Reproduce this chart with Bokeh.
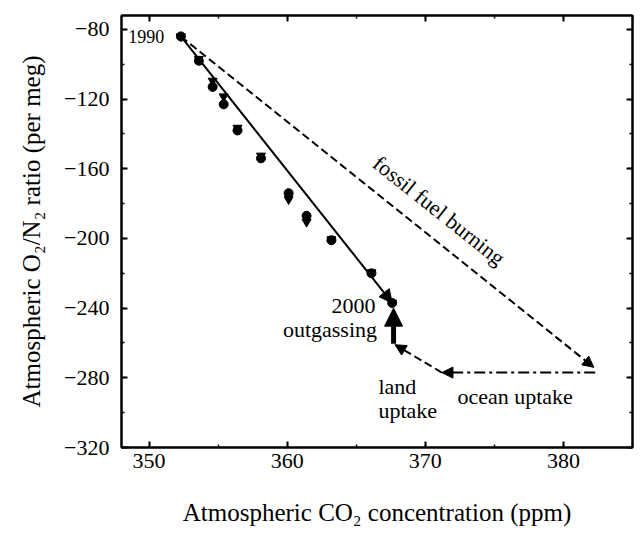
from bokeh.plotting import figure
from bokeh.models import (Arrow, NormalHead, Label, LinearAxis, Range1d,
                          FixedTicker, CustomJSTickFormatter, ColumnDataSource)
from bokeh.embed import file_html
from bokeh.resources import INLINE
import math

# ---- data ----
years = [1990, 1991, 1992, 1993, 1994, 1995, 1996, 1997, 1998, 1999, 2000]
co2 = [352.3, 353.6, 354.6, 355.4, 356.4, 358.1, 360.1, 361.4, 363.2, 366.1, 367.6]
o2n2 = [-84, -98, -113, -123, -138, -154, -174, -187, -201, -220, -237]

tri_co2 = [352.3, 353.6, 354.6, 355.4, 356.4, 358.1, 360.1, 361.4, 363.2, 366.1, 367.6]
tri_o2n2 = [-84, -97, -109.5, -118.5, -136.5, -152.5, -177.5, -190.5, -200.5, -219.5, -237]

# budget segments: fossil fuel burning, ocean uptake, land uptake, outgassing
seg_names = ["fossil fuel burning", "ocean uptake", "land uptake", "outgassing"]
seg_x0 = [352.3, 382.3, 371.2, 367.7]
seg_y0 = [-84, -277, -277, -260.5]
seg_x1 = [382.2, 371.2, 367.8, 367.7]
seg_y1 = [-274, -277, -261, -240]

x_ticks = [350, 360, 370, 380]
y_ticks = [-80, -120, -160, -200, -240, -280, -320]

FONT = "Liberation Serif"

p = figure(width=640, height=536,
           x_range=Range1d(348, 385), y_range=Range1d(-320, -72),
           output_backend="svg", toolbar_location=None,
           min_border_left=121, min_border_right=8,
           min_border_top=15, min_border_bottom=89)
p.grid.visible = False
p.outline_line_color = "black"
p.outline_line_width = 2
p.background_fill_color = "white"
p.border_fill_color = "white"

x_minor = [345 + 5 * i for i in range(10)]
y_minor = [-340 + 20 * i for i in range(16)]
xt = FixedTicker(ticks=x_ticks, minor_ticks=x_minor)
yt = FixedTicker(ticks=y_ticks, minor_ticks=y_minor)


def style_axis(ax):
    ax.axis_line_width = 2
    ax.axis_line_color = "black"
    ax.major_tick_in = 6
    ax.major_tick_out = 0
    ax.minor_tick_in = 3
    ax.minor_tick_out = 0
    ax.major_tick_line_width = 2
    ax.minor_tick_line_width = 1.5
    ax.major_label_text_font = FONT
    ax.major_label_text_font_size = "22px"
    ax.major_label_text_color = "black"
    ax.axis_label_text_font = FONT
    ax.axis_label_text_font_size = "25px"
    ax.axis_label_text_font_style = "normal"
    ax.axis_label_text_color = "black"


xa = p.xaxis[0]
xa.ticker = xt
style_axis(xa)
xa.major_label_standoff = 6
xa.axis_label = "Atmospheric CO\u2082 concentration (ppm)"
xa.axis_label_standoff = 28

ya = p.yaxis[0]
ya.ticker = yt
style_axis(ya)
ya.major_label_standoff = 12
ya.major_label_overrides = {t: "\u2212" + str(abs(t)) for t in y_ticks}
ya.axis_label = "Atmospheric O\u2082/N\u2082 ratio (per meg)"
ya.axis_label_standoff = 16

blank = CustomJSTickFormatter(code="return ''")
for loc, tk in (("right", yt), ("above", xt)):
    ax = LinearAxis(ticker=tk, formatter=blank)
    style_axis(ax)
    ax.major_label_text_font_size = "0px"
    ax.major_label_standoff = 0
    p.add_layout(ax, loc)

# budget arrows
styles = [
    dict(line_dash="8 4", line_width=2, size=11),        # fossil fuel burning
    dict(line_dash="11 4 3 4", line_width=2, size=11),   # ocean uptake
    dict(line_dash="8 4", line_width=2, size=11),        # land uptake
    dict(line_dash="solid", line_width=5, size=18),      # outgassing
]
for i, st in enumerate(styles):
    p.add_layout(Arrow(
        end=NormalHead(size=st["size"], fill_color="black", line_color="black", line_width=1),
        x_start=seg_x0[i], y_start=seg_y0[i],
        x_end=seg_x1[i], y_end=seg_y1[i],
        line_color="black", line_width=st["line_width"], line_dash=st["line_dash"]))

# observed trend 1990 -> 2000
p.add_layout(Arrow(
    end=NormalHead(size=13, fill_color="black", line_color="black", line_width=1),
    x_start=co2[0], y_start=o2n2[0], x_end=co2[-1], y_end=o2n2[-1],
    line_color="black", line_width=2))

src = ColumnDataSource(dict(x=co2, y=o2n2, year=years))
tsrc = ColumnDataSource(dict(x=tri_co2, y=tri_o2n2))
p.scatter("x", "y", source=tsrc, marker="inverted_triangle", size=9,
          fill_color="black", line_color="black")
p.scatter("x", "y", source=src, marker="circle", size=9,
          fill_color="black", line_color="black")

lab = dict(text_font=FONT, text_font_size="22px", text_color="black")
p.add_layout(Label(x=351.1, y=o2n2[0], text=str(years[0]), text_align="right",
                   text_baseline="middle", text_font=FONT, text_font_size="18px",
                   text_color="black"))
p.add_layout(Label(x=366.4, y=-239, text=str(years[-1]), text_align="right",
                   text_baseline="middle", **lab))
p.add_layout(Label(x=366.5, y=-252, text=seg_names[3], text_align="right",
                   text_baseline="middle", **lab))
p.add_layout(Label(x=366.6, y=-285, text="land", text_align="left",
                   text_baseline="middle", **lab))
p.add_layout(Label(x=366.6, y=-299, text="uptake", text_align="left",
                   text_baseline="middle", **lab))
p.add_layout(Label(x=376.5, y=-291, text=seg_names[1], text_align="center",
                   text_baseline="middle", **lab))
p.add_layout(Label(x=371.0, y=-184, text=seg_names[0], text_align="center",
                   text_baseline="middle", angle=-math.radians(38.5), **lab))

open("out.html", "w").write(file_html(p, INLINE))
